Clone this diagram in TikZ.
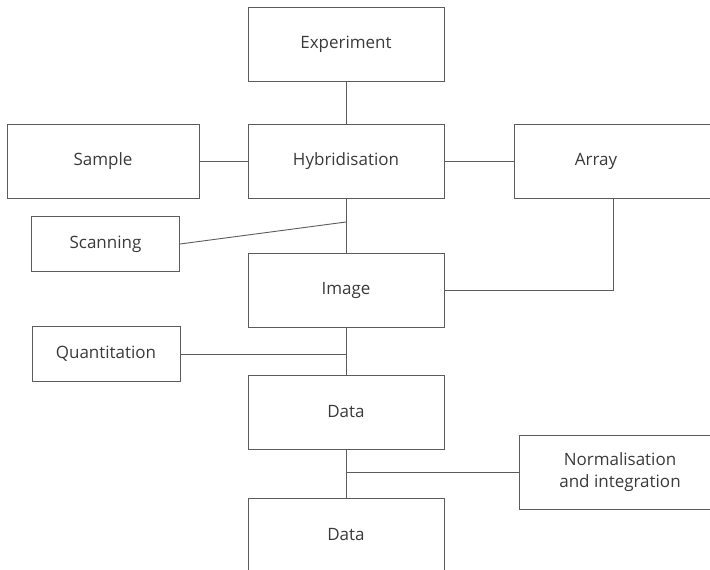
\documentclass[tikz,border=0pt]{standalone}
\usepackage{fontspec}
\setsansfont{Open Sans}
\usetikzlibrary{positioning}

\definecolor{linegray}{HTML}{5C5C5C}
\definecolor{textgray}{HTML}{3A3A3A}

\begin{document}
\begin{tikzpicture}[x=1pt, y=-1pt,
    box/.style={draw=linegray, line width=0.9pt, minimum width=196pt, minimum height=74pt,
      inner sep=0pt, text=textgray, font=\sffamily\fontsize{17}{22}\selectfont, align=center},
    small/.style={box, minimum width=148pt, minimum height=55pt},
    link/.style={draw=linegray, line width=0.9pt}]
  \useasboundingbox (0, 0) rectangle (710, 570);
  \clip (0, 0) rectangle (710, 570);

  % main column
  \foreach \name/\y/\txt in {exp/44/Experiment, hyb/161/Hybridisation, img/290/Image,
      dat/412/Data, res/535/Data} {
      \node[box] (\name) at (346, \y) {\txt};
    }

  % side boxes
  \node[box, minimum width=192pt] (sample) at (103, 161) {Sample};
  \node[box, minimum width=198pt, label={[text=textgray, font=\sffamily\fontsize{17}{22}\selectfont,
      xshift=-17pt]center:Array}] (array) at (613, 161) {};
  \node[small] (scan) at (105.5, 244) {Scanning};
  \node[small] (quant) at (106, 354) {Quantitation};
  \node[box, minimum width=202pt] (norm) at (620, 472) {Normalisation\\and integration};

  \coordinate (scanend) at (346, 222);

  \draw[link] (exp) -- (hyb);
  \draw[link] (sample) -- (hyb);
  \draw[link] (hyb) -- (array);
  \draw[link] (hyb) -- (img);
  \draw[link] (scan.east) -- (scanend);
  \draw[link] (img.east) -| (array.south);
  \draw[link] (img) -- (dat);
  \draw[link] (quant.east) -- (quant.east -| img.south);
  \draw[link] (dat) -- (res);
  \draw[link] (norm.west) -- (norm.west -| dat.south);
\end{tikzpicture}
\end{document}
